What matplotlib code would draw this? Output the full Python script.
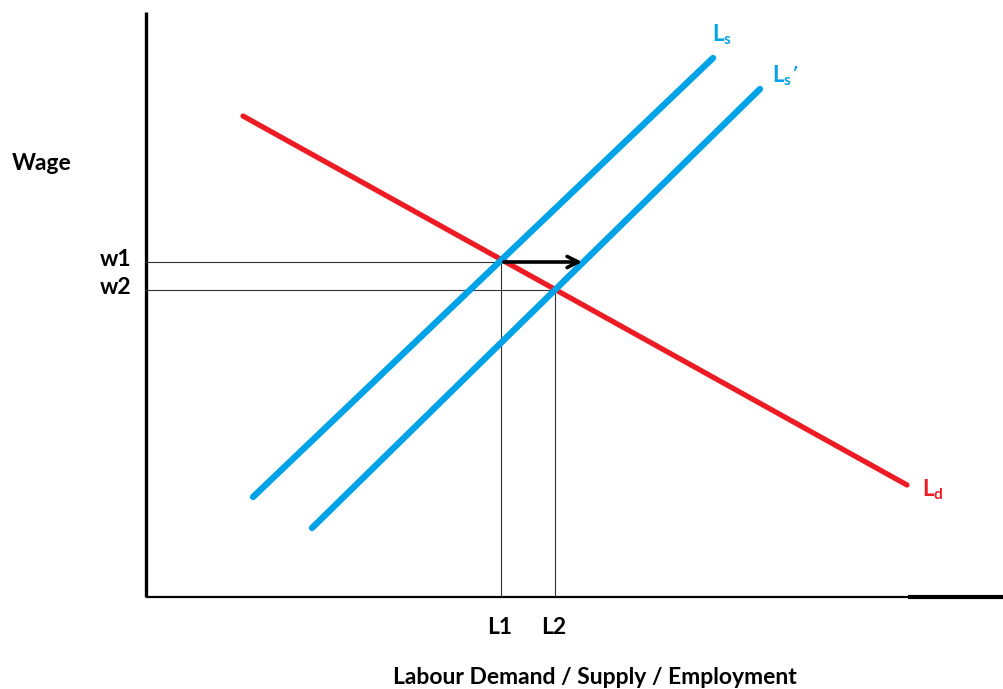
import matplotlib
matplotlib.use("Agg")
import matplotlib.pyplot as plt

plt.rcParams['font.family'] = ['Lato', 'DejaVu Sans']

# Courbes (unités arbitraires : x = quantité de travail, y = salaire)
ls_x = [10.7, 56.7]
ls_y = [10.0, 53.9]
ls2_x = [16.6, 61.4]
ls2_y = [6.9, 50.8]
ld_x = [9.7, 76.1]
ld_y = [48.1, 11.2]

# Équilibres
wage_levels = [33.5, 30.7]
wage_labels = ["w1", "w2"]
labour_levels = [35.5, 40.9]
labour_labels = ["L1", "L2"]
shift_end = 43.9

blue = "#00A2E8"
red = "#ED1C24"

fig = plt.figure(figsize=(10.04, 6.89), dpi=100)
ax = fig.add_axes([146 / 1004, 92 / 689, 858 / 1004, 585 / 689])
ax.set_xlim(0, 85.8)
ax.set_ylim(0, 58.5)
ax.axis("off")

# Axes dessinés à la main
ax.plot([0, 0], [0, 58.5], color="black", lw=2.4, clip_on=False, solid_capstyle="butt")
ax.plot([0, 76.2], [0, 0], color="black", lw=1.6, clip_on=False, solid_capstyle="butt")
ax.plot([76.2, 85.8], [0, 0], color="black", lw=3.0, clip_on=False, solid_capstyle="butt")

# Lignes de repère
for w, l in zip(wage_levels, labour_levels):
    ax.plot([0, l], [w, w], color="#333333", lw=0.8)
    ax.plot([l, l], [0, w], color="#333333", lw=0.8)

# Courbes
ax.plot(ld_x, ld_y, color=red, lw=3.8, solid_capstyle="round")
ax.plot(ls_x, ls_y, color=blue, lw=4.6, solid_capstyle="round")
ax.plot(ls2_x, ls2_y, color=blue, lw=4.6, solid_capstyle="round")

# Flèche de déplacement
ax.annotate("", xy=(shift_end, wage_levels[0]), xytext=(labour_levels[0], wage_levels[0]),
            arrowprops=dict(arrowstyle="->", color="black", lw=2.6, mutation_scale=20))

# Étiquettes des courbes
ax.text(56.6, 55.0, r"L$_\mathregular{s}$", color=blue, fontsize=16, fontweight="bold", va="bottom")
ax.text(62.6, 50.9, r"L$_\mathregular{s}$’", color=blue, fontsize=16, fontweight="bold", va="bottom")
ax.text(77.6, 10.7, r"L$_\mathregular{d}$", color=red, fontsize=16, fontweight="bold", va="center")

# Étiquettes des axes
for w, lab in zip(wage_levels, wage_labels):
    ax.text(-1.5, w + 0.2, lab, fontsize=16.5, fontweight="bold", ha="right", va="center")
for l, lab in zip(labour_levels, labour_labels):
    ax.text(l - 0.1, -3.1, lab, fontsize=16.5, fontweight="bold", ha="center", va="center")

ax.text(-13.4, 43.4, "Wage", fontsize=16.5, fontweight="bold", ha="left", va="center")
ax.text(44.9, -8.0, "Labour Demand / Supply / Employment", fontsize=16.5, fontweight="bold",
        ha="center", va="center")

fig.savefig("out.png", dpi=100)
